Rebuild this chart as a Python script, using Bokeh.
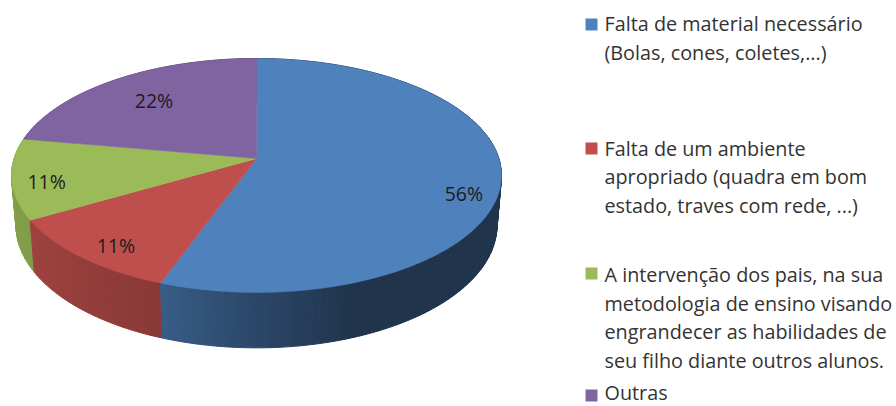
import numpy as np
from bokeh.plotting import figure
from bokeh.models import Range1d, ColumnDataSource
from bokeh.core.properties import value
from bokeh.embed import file_html
from bokeh.resources import INLINE

# ---- data ----
categories = ["Falta de material necessário (Bolas, cones, coletes,...)",
              "Falta de um ambiente apropriado (quadra em bom estado, traves com rede, ...)",
              "A intervenção dos pais, na sua metodologia de ensino visando engrandecer as habilidades de seu filho diante outros alunos.",
              "Outras"]
values = [5, 1, 1, 2]
colors = ["#4F81BD", "#BE4F4C", "#9BBB59", "#8064A2"]
legend_lines = [["Falta de material necessário", "(Bolas, cones, coletes,...)"],
                ["Falta de um ambiente", "apropriado (quadra em bom", "estado, traves com rede, ...)"],
                ["A intervenção dos pais, na sua", "metodologia de ensino visando", "engrandecer as habilidades de", "seu filho diante outros alunos."],
                ["Outras"]]
legend_y = [[23, 52], [148, 176, 205], [274, 303, 331, 360], [392.4]]
swatch_y = [24, 148, 273, 395]
label_r = [0.85, 0.82, 0.86, 0.71]
label_dy = [18, 8, 6, 0]

# ---- projection of the tilted disc ----
CX = 256.0
K = 0.145
TOP = dict(rx=242.4, ry=114.5, cy=158.0)
BOT = dict(rx=238.0, ry=120.0, cy=207.0)

def proj(t, plane, r=1.0):
    u, v = r * np.sin(t), r * np.cos(t)
    d = 1 + K * v
    return CX + plane["rx"] * u / d, plane["cy"] - plane["ry"] * v / d

def shade(hex_color, f):
    rgb = [int(hex_color[i:i + 2], 16) for i in (1, 3, 5)]
    return "#%02x%02x%02x" % tuple(int(round(c * f)) for c in rgb)

total = sum(values)
edges = np.cumsum([0] + values) / total * 2 * np.pi

p = figure(width=896, height=406, output_backend="svg", toolbar_location=None,
           x_range=Range1d(0, 896), y_range=Range1d(406, 0), min_border=0)
p.axis.visible = False
p.grid.visible = False
p.outline_line_color = None
p.background_fill_color = "white"
p.border_fill_color = "white"

# ---- side wall, far strips first ----
strips = []
for i, col in enumerate(colors):
    n = max(4, int(np.degrees(edges[i + 1] - edges[i]) / 1.5))
    ts = np.linspace(edges[i], edges[i + 1], n + 1)
    for a, b in zip(ts[:-1], ts[1:]):
        m = (a + b) / 2
        f = np.interp(np.sin(m), [-1, -0.35, 0, 0.35, 1], [0.86, 0.72, 0.55, 0.40, 0.40])
        xa, ya = proj(a, TOP)
        xb, yb = proj(b, TOP)
        xc, yc = proj(b, BOT)
        xd, yd = proj(a, BOT)
        strips.append((-np.cos(m), [xa, xb, xc, xd], [ya, yb, yc, yd], shade(col, f)))
strips.sort(key=lambda s: s[0])
wall = ColumnDataSource(dict(xs=[s[1] for s in strips], ys=[s[2] for s in strips],
                             c=[s[3] for s in strips]))
p.patches("xs", "ys", source=wall, fill_color="c", line_color="c", line_width=1)

# ---- top face ----
xs, ys = [], []
for i in range(len(values)):
    ts = np.linspace(edges[i], edges[i + 1], 240)
    ex, ey = proj(ts, TOP)
    xs.append([CX] + list(ex))
    ys.append([TOP["cy"]] + list(ey))
p.patches(xs, ys, fill_color=colors, line_color=colors, line_width=0.5)

# ---- percent labels ----
mids = (edges[:-1] + edges[1:]) / 2
lx, ly, lt = [], [], []
for i, m in enumerate(mids):
    x, y = proj(m, TOP, label_r[i])
    lx.append(x)
    ly.append(y + label_dy[i])
    lt.append("%d%%" % round(values[i] / total * 100))
p.text(lx, ly, text=lt, text_font=value("Open Sans"), text_font_size="19.5px",
       text_color="#1c1c1c", text_align="center", text_baseline="middle")

# ---- legend ----
for col, lines, yy, sy in zip(colors, legend_lines, legend_y, swatch_y):
    p.scatter([591], [sy], marker="square", size=12, fill_color=col, line_color=None)
    p.text([604] * len(lines), yy, text=lines, text_font=value("Open Sans"),
           text_font_size="19.8px", text_color="#333333", text_align="left",
           text_baseline="middle")

open("out.html", "w").write(file_html(p, INLINE))
